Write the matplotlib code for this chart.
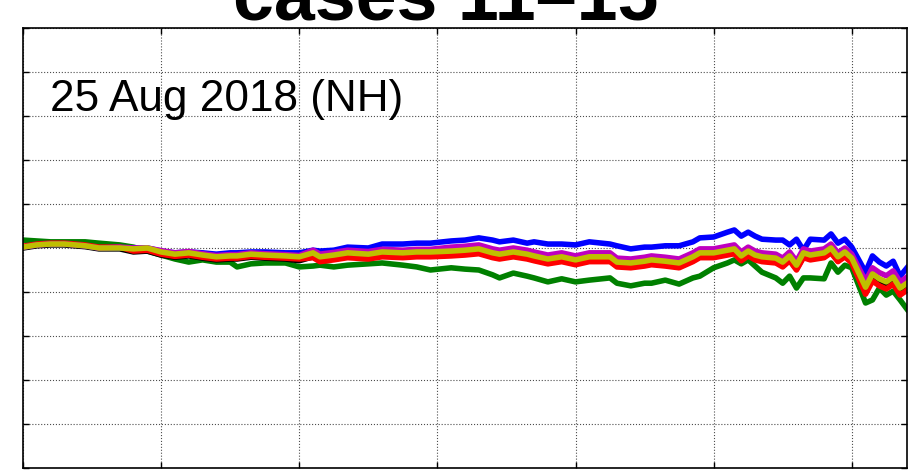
import numpy as np
import matplotlib
matplotlib.use("Agg")
import matplotlib.pyplot as plt

plt.rcParams['font.family'] = ['Liberation Sans', 'DejaVu Sans']

# forecast day (6-hourly samples)
days = [0, 0.5, 1, 1.5, 2.25, 2.75, 3.5, 4, 4.5, 5,
        5.5, 6, 6.5, 7, 7.5, 7.75, 8.25, 8.75, 9.5, 10,
        10.5, 10.75, 11.25, 11.75, 12.5, 13, 13.75, 14.25, 14.75, 15.5,
        16, 16.5, 17, 17.25, 17.75, 18.25, 18.5, 19, 19.5, 20,
        20.5, 21.25, 21.5, 22, 22.5, 22.75, 23.25, 23.75, 24.25, 24.5,
        25, 25.5, 25.75, 26, 26.25, 26.5, 26.75, 27.25, 27.5, 27.75,
        28, 28.25, 28.5, 29, 29.25, 29.5, 29.75, 30, 30.5, 30.75,
        31, 31.25, 31.5, 31.75, 32]

case11 = [0.0, 0.5, 0.7, 0.7, 0.3, -0.2, -0.2, -0.9, -0.7, -1.6,
          -2.1, -1.8, -2.3, -2.7, -2.5, -2.5, -2.1, -2.3, -2.5, -2.9,
          -2.0, -2.9, -2.5, -2.0, -2.3, -1.8, -2.0, -1.8, -1.8, -1.6,
          -1.4, -1.1, -2.0, -2.3, -1.8, -2.3, -2.7, -3.4, -2.9, -3.6,
          -2.9, -2.9, -4.1, -4.3, -3.9, -3.6, -3.9, -4.3, -2.9, -2.0,
          -2.0, -1.4, -1.1, -2.7, -1.6, -2.5, -2.9, -3.2, -4.1, -2.7,
          -4.8, -2.0, -2.5, -2.0, -0.9, -2.9, -1.8, -3.2, -10.0, -7.0,
          -8.1, -8.8, -7.7, -10.2, -9.1]

case12 = [0.2, 0.7, 0.9, 0.9, 0.5, 0.0, 0.0, 0.0, 0.0, -0.7,
          -1.1, -0.9, -1.1, -1.4, -1.1, -1.1, -0.9, -0.9, -1.1, -1.1,
          -0.5, -0.7, -0.5, 0.2, 0.0, 0.9, 0.9, 1.1, 1.1, 1.6,
          1.8, 2.3, 1.8, 1.4, 1.8, 1.1, 1.4, 0.9, 0.9, 0.7,
          1.4, 0.9, 0.5, -0.2, 0.2, 0.2, 0.5, 0.5, 1.4, 2.3,
          2.5, 3.6, 4.1, 2.7, 3.6, 2.7, 2.0, 1.8, 1.8, 0.7,
          2.0, -0.5, 2.0, 1.8, 3.2, 1.1, 2.0, 0.2, -5.5, -1.8,
          -3.2, -4.1, -3.0, -6.4, -4.5]

case13 = [1.8, 1.6, 1.4, 1.4, 1.4, 1.1, 0.7, 0.2, -0.7, -1.6,
          -2.5, -3.2, -2.7, -3.2, -3.2, -4.3, -3.6, -3.4, -3.4, -4.3,
          -4.1, -3.9, -4.3, -3.9, -3.6, -3.4, -3.9, -4.3, -5.0, -4.5,
          -4.8, -5.0, -6.1, -6.8, -5.7, -6.4, -6.8, -7.7, -7.0, -7.7,
          -7.3, -6.8, -8.0, -8.6, -8.0, -8.0, -7.3, -8.2, -6.8, -6.4,
          -4.5, -3.4, -2.7, -3.6, -2.7, -4.1, -5.5, -6.8, -8.0, -6.4,
          -9.1, -6.8, -6.8, -7.0, -3.4, -5.5, -3.9, -4.5, -12.5, -11.8,
          -9.1, -10.7, -9.8, -11.8, -13.9]

case14 = [0.4, 0.9, 1.1, 1.1, 0.7, 0.2, 0.2, -0.7, -0.5, -1.4,
          -1.9, -1.6, -2.1, -2.5, -2.3, -2.3, -1.9, -2.1, -2.3, -2.5,
          -2.2, -3.1, -2.7, -2.2, -2.5, -2.0, -2.2, -2.0, -2.0, -1.8,
          -1.6, -1.3, -2.2, -2.5, -2.0, -2.5, -2.9, -3.6, -3.1, -3.8,
          -3.1, -3.1, -4.3, -4.5, -4.1, -3.8, -4.1, -4.5, -3.1, -2.2,
          -2.2, -1.6, -1.3, -2.9, -1.8, -2.7, -3.1, -3.4, -4.3, -2.9,
          -5.0, -2.2, -2.7, -2.2, -1.1, -3.1, -2.0, -3.4, -10.5, -7.5,
          -8.6, -9.3, -8.2, -10.7, -9.6]

case15 = [0.2, 0.7, 0.9, 0.9, 0.5, 0.0, 0.2, 0.0, 0.0, -0.6,
          -1.1, -0.8, -1.3, -1.7, -1.5, -1.5, -1.1, -1.3, -1.5, -1.7,
          -0.5, -1.4, -1.0, -0.5, -0.8, -0.3, -0.5, -0.3, -0.3, 0.2,
          0.4, 0.7, -0.2, -0.5, 0.0, -0.5, -0.9, -1.6, -1.1, -1.8,
          -1.1, -1.1, -2.3, -2.5, -2.1, -1.8, -2.1, -2.5, -1.1, -0.2,
          -0.2, 0.4, 0.7, -0.9, 0.2, -0.7, -1.1, -1.4, -2.3, -0.9,
          -3.0, -0.2, -0.7, -0.2, 0.9, -1.1, 0.0, -1.4, -7.5, -4.5,
          -5.6, -6.3, -5.2, -7.7, -6.6]

case_mean = [0.2, 0.7, 0.9, 0.9, 0.5, 0.0, 0.0, -0.2, 0.0, -0.9,
             -1.4, -1.1, -1.6, -2.0, -1.8, -1.8, -1.4, -1.6, -1.8, -2.0,
             -1.1, -2.0, -1.6, -1.1, -1.4, -0.9, -1.1, -0.9, -0.9, -0.7,
             -0.5, -0.2, -1.1, -1.4, -0.9, -1.4, -1.8, -2.5, -2.0, -2.7,
             -2.0, -2.0, -3.2, -3.4, -3.0, -2.7, -3.0, -3.4, -2.0, -1.1,
             -1.1, -0.5, -0.2, -1.8, -0.7, -1.6, -2.0, -2.3, -3.2, -1.8,
             -3.9, -1.1, -1.6, -1.1, 0.0, -2.0, -0.9, -2.3, -8.9, -5.9,
             -7.0, -7.7, -6.6, -9.1, -8.0]

fig = plt.figure(figsize=(9.08, 4.70), dpi=100)
ax = fig.add_axes([23/908, 2/470, 884/908, 440/470])

lw = 4.0
ax.plot(days, case13, color=(0, 0.5, 0), lw=lw)
ax.plot(days, case11, color='k', lw=lw)
ax.plot(days, case12, color=(0, 0, 1), lw=lw)
ax.plot(days, case14, color=(1, 0, 0), lw=lw)
ax.plot(days, case15, color=(0.75, 0, 0.75), lw=lw)
ax.plot(days, case_mean, color=(0.75, 0.75, 0), lw=lw)

ax.set_xlim(0, 32)
ax.set_ylim(-50, 50)
ax.set_xticks(np.arange(0, 31, 5))
ax.set_yticks(np.arange(-50, 51, 10))
ax.set_xticklabels([])
ax.set_yticklabels([])
ax.tick_params(direction='in', length=4, width=1, top=True, right=True)
ax.grid(True, linestyle=':', color='0.3', linewidth=0.8)
for s in ax.spines.values():
    s.set_linewidth(1.2)

ax.text(0.0305, 0.811, '25 Aug 2018 (NH)', transform=ax.transAxes,
        fontsize=31.8, va='baseline', ha='left')
fig.text(446/908, 1 - 20/470, 'cases 11\u201315', fontsize=53,
         fontweight='bold', ha='center', va='baseline')

fig.savefig('out.png', dpi=100)
